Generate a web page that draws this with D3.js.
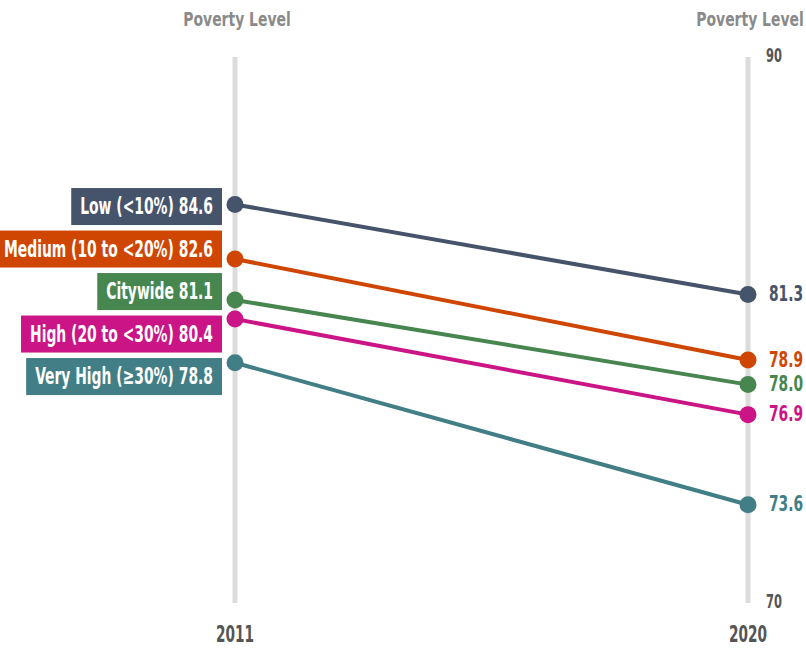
<!DOCTYPE html>
<html><head><meta charset="utf-8">
<script src="https://cdn.jsdelivr.net/npm/d3@7"></script>
<style>
body{margin:0;background:#fff;}
text{font-family:"DejaVu Sans Condensed","DejaVu Sans",sans-serif;font-weight:bold;}
</style></head>
<body>
<svg id="chart" width="806" height="649"></svg>
<script>
const years = ["2011", "2020"];
const groups = ["Low (<10%)", "Medium (10 to <20%)", "Citywide", "High (20 to <30%)", "Very High (≥30%)"];
const values2011 = [84.6, 82.6, 81.1, 80.4, 78.8];
const values2020 = [81.3, 78.9, 78.0, 76.9, 73.6];
const colors = ["#46546b", "#cf4602", "#47874f", "#cb1485", "#427e85"];
const axisTicks = [70, 90];
const headerLabel = "Poverty Level";

const svg = d3.select("#chart");
const x = d3.scalePoint().domain(years).range([235, 748]);
const y = d3.scaleLinear().domain([70, 90]).range([603, 57]);

// condensed text helper
function ctext(parent, tx, ty, str, size, k, anchor, fill) {
  return parent.append("text")
    .attr("transform", `translate(${tx},${ty}) scale(${k},1)`)
    .attr("text-anchor", anchor).attr("dominant-baseline", "middle")
    .attr("font-size", size).attr("fill", fill).text(str);
}

// axis lines + headers + years
years.forEach(yr => {
  svg.append("line").attr("x1", x(yr)).attr("x2", x(yr))
    .attr("y1", y(90)).attr("y2", y(70))
    .attr("stroke", "#dcdcdc").attr("stroke-width", 5);
  ctext(svg, x(yr) + 2, 20, headerLabel, 20, 0.775, "middle", "#8a8a8a");
  ctext(svg, x(yr), 636, yr, 23, 0.66, "middle", "#555");
});
// right axis ticks
axisTicks.forEach(t => {
  ctext(svg, 766, y(t), t, 19, 0.67, "start", "#555");
});

const data = groups.map((g, i) => ({g, a: values2011[i], b: values2020[i], c: colors[i]}));

// lines
svg.selectAll("line.series").data(data).join("line").attr("class", "series")
  .attr("x1", x(years[0])).attr("x2", x(years[1]))
  .attr("y1", d => y(d.a)).attr("y2", d => y(d.b))
  .attr("stroke", d => d.c).attr("stroke-width", 4);
// dots
data.forEach(d => {
  [[years[0], d.a], [years[1], d.b]].forEach(([yr, v]) => {
    svg.append("circle").attr("cx", x(yr)).attr("cy", y(v)).attr("r", 8.5).attr("fill", d.c);
  });
});

// left label layout (relaxation)
const minGap = 42.5;
const pos = data.map(d => y(d.a));
for (let it = 0; it < 500; it++) {
  for (let i = 0; i < pos.length - 1; i++) {
    const gap = pos[i + 1] - pos[i];
    if (gap < minGap) {
      const o = (minGap - gap) / 2;
      pos[i] -= o; pos[i + 1] += o;
    }
  }
}
const boxH = 37, pad = 9, boxRight = 222, kL = 0.672;
data.forEach((d, i) => {
  const cy = pos[i] + 2.5;
  const g = svg.append("g");
  const t = ctext(g, boxRight - pad, cy + 1, `${d.g} ${d.a.toFixed(1)}`, 23, kL, "end", "#fff");
  const w = t.node().getComputedTextLength() * kL;
  g.insert("rect", "text").attr("x", boxRight - pad - w - pad).attr("y", cy - boxH / 2)
    .attr("width", w + 2 * pad).attr("height", boxH).attr("fill", d.c);
});
// right labels
data.forEach(d => {
  ctext(svg, 769, y(d.b) + 1, d.b.toFixed(1), 20.5, 0.75, "start", d.c);
});
</script>
</body></html>
